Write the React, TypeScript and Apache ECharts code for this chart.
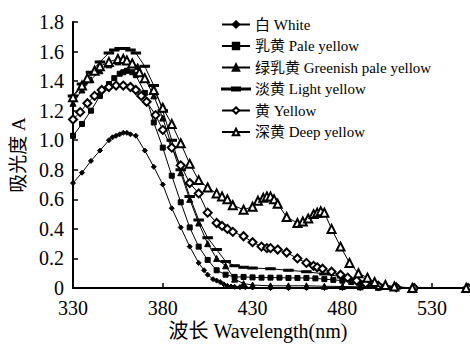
import React, { useEffect, useRef } from "react";
import * as echarts from "echarts";

const seriesNames = [
  "白 White",
  "乳黄 Pale yellow",
  "绿乳黄 Greenish pale yellow",
  "淡黄 Light yellow",
  "黄 Yellow",
  "深黄 Deep yellow",
];

const whiteData: [number, number][] = [
  [330, 0.71], [335, 0.78], [340, 0.86], [345, 0.93], [350, 1.0], [352, 1.02], [354, 1.03],
  [356, 1.04], [358, 1.05], [360, 1.05], [362, 1.04], [365, 1.03], [370, 0.93], [375, 0.82],
  [380, 0.7], [385, 0.54], [390, 0.41], [395, 0.28], [400, 0.17], [403, 0.12], [405, 0.09],
  [408, 0.06], [410, 0.05], [412, 0.04], [414, 0.025], [416, 0.015], [418, 0.01], [420, 0.008],
  [423, 0.006], [426, 0.005], [430, 0.003], [440, 0.0], [450, 0.0], [460, 0.0], [470, 0.0],
  [480, 0.0], [490, 0.0], [500, 0.0], [520, 0.0], [550, 0.0],
];

const paleYellowData: [number, number][] = [
  [330, 1.03], [335, 1.11], [340, 1.2], [345, 1.3], [350, 1.38], [353, 1.42], [356, 1.45],
  [358, 1.46], [360, 1.47], [363, 1.46], [365, 1.44], [370, 1.32], [375, 1.12], [380, 0.95],
  [385, 0.76], [390, 0.58], [395, 0.41], [400, 0.28], [405, 0.19], [410, 0.12], [415, 0.09],
  [420, 0.075], [425, 0.075], [430, 0.072], [435, 0.07], [440, 0.07], [445, 0.07], [450, 0.068],
  [455, 0.068], [460, 0.068], [465, 0.065], [470, 0.06], [475, 0.055], [480, 0.05], [485, 0.04],
  [490, 0.03], [495, 0.02], [500, 0.01], [510, 0.005], [520, 0.0], [550, 0.0],
];

const greenishData: [number, number][] = [
  [330, 1.25], [335, 1.34], [340, 1.41], [345, 1.47], [350, 1.51], [355, 1.53], [358, 1.54],
  [360, 1.54], [363, 1.53], [366, 1.5], [370, 1.42], [375, 1.3], [380, 1.15], [385, 0.96],
  [390, 0.78], [395, 0.6], [400, 0.44], [405, 0.3], [410, 0.2], [415, 0.15], [420, 0.06],
  [425, 0.03], [430, 0.02], [440, 0.015], [450, 0.015], [460, 0.015], [470, 0.012], [480, 0.01],
  [490, 0.008], [500, 0.005], [520, 0.0], [550, 0.0],
];

const lightYellowData: [number, number][] = [
  [330, 1.3], [335, 1.38], [340, 1.46], [345, 1.53], [350, 1.59], [353, 1.61], [356, 1.62],
  [359, 1.62], [362, 1.61], [365, 1.59], [370, 1.5], [375, 1.37], [380, 1.2], [385, 1.0],
  [390, 0.8], [395, 0.62], [400, 0.46], [405, 0.34], [410, 0.26], [415, 0.18], [420, 0.15],
  [425, 0.14], [430, 0.135], [440, 0.13], [450, 0.12], [460, 0.11], [470, 0.095], [480, 0.075],
  [485, 0.06], [490, 0.04], [495, 0.02], [500, 0.012], [510, 0.0], [550, 0.0],
];

const yellowData: [number, number][] = [
  [330, 1.14], [334, 1.19], [338, 1.25], [342, 1.3], [346, 1.34], [350, 1.36], [354, 1.37],
  [358, 1.37], [362, 1.36], [365, 1.34], [368, 1.3], [371, 1.26], [376, 1.17], [380, 1.07],
  [385, 0.95], [390, 0.83], [395, 0.71], [400, 0.64], [405, 0.51], [410, 0.44], [413, 0.42],
  [416, 0.4], [419, 0.38], [425, 0.35], [430, 0.31], [435, 0.28], [438, 0.27], [440, 0.27],
  [444, 0.26], [449, 0.24], [455, 0.2], [460, 0.17], [464, 0.15], [466, 0.14], [469, 0.13],
  [474, 0.11], [479, 0.09], [483, 0.07], [488, 0.05], [493, 0.03], [500, 0.015], [510, 0.005],
  [520, 0.0], [550, 0.0],
];

const deepYellowData: [number, number][] = [
  [330, 1.29], [335, 1.37], [338, 1.42], [342, 1.47], [345, 1.5], [350, 1.53], [355, 1.55],
  [358, 1.55], [360, 1.54], [363, 1.52], [367, 1.46], [370, 1.42], [375, 1.34], [380, 1.22],
  [385, 1.11], [390, 0.98], [395, 0.84], [400, 0.73], [405, 0.68], [410, 0.64], [413, 0.62],
  [416, 0.6], [419, 0.56], [425, 0.53], [430, 0.55], [433, 0.59], [436, 0.61], [438, 0.62],
  [440, 0.62], [442, 0.6], [444, 0.57], [449, 0.48], [455, 0.44], [458, 0.45], [461, 0.47],
  [464, 0.5], [466, 0.51], [468, 0.52], [470, 0.51], [474, 0.4], [479, 0.28], [484, 0.17],
  [489, 0.1], [494, 0.07], [498, 0.04], [504, 0.02], [509, 0.01], [519, 0.0], [549, 0.0],
];

const xTicks = { min: 330, max: 550, interval: 50 };
const yTicks = { min: 0, max: 1.8, interval: 0.2 };
const xAxisTitle = "波长 Wavelength(nm)";
const yAxisTitle = "吸光度 A";

const FONT = "Liberation Serif, Times New Roman, Noto Sans CJK SC, serif";

export default function App() {
  const ref = useRef<HTMLDivElement>(null);
  useEffect(() => {
    if (!ref.current) return;
    const chart = echarts.init(ref.current, null, { renderer: "svg" });
    const datasets = [whiteData, paleYellowData, greenishData, lightYellowData, yellowData, deepYellowData];
    const symbols: any[] = ["diamond", "rect", "triangle", "rect", "emptyDiamond", "emptyTriangle"];
    const sizes: any[] = [5, 5, 6, [7, 2], 8, 8];
    const legendData = seriesNames.map((name, i) =>
      i === 3
        ? { name, icon: "path://M0,3.5H10V2.5H18V3.5H28V4.5H18V5.5H10V4.5H0Z" }
        : { name }
    );
    chart.setOption({
      animation: false,
      backgroundColor: "#fff",
      grid: { left: 73, right: 2, top: 22, bottom: 56 },
      legend: {
        orient: "vertical",
        left: 216,
        top: 12,
        itemWidth: 28,
        itemHeight: 8,
        itemGap: 6.5,
        textStyle: { fontFamily: FONT, fontSize: 15, color: "#000" },
        data: legendData,
      },
      graphic: [
        {
          type: "text",
          x: 258,
          y: 321,
          style: {
            text: xAxisTitle,
            fontFamily: FONT,
            fontSize: 20,
            fill: "#000",
            textAlign: "center",
            textVerticalAlign: "top",
          },
        },
      ],
      xAxis: {
        type: "value",
        min: xTicks.min,
        max: xTicks.max,
        interval: xTicks.interval,
        axisLine: { lineStyle: { color: "#000", width: 2 } },
        axisTick: { inside: true, length: 5, lineStyle: { color: "#000", width: 1.5 } },
        axisLabel: { fontFamily: FONT, fontSize: 20, color: "#000", margin: 10, showMaxLabel: false },
        splitLine: { show: false },
      },
      yAxis: {
        type: "value",
        min: yTicks.min,
        max: yTicks.max,
        interval: yTicks.interval,
        name: yAxisTitle,
        nameLocation: "middle",
        nameGap: 35,
        nameRotate: 90,
        nameTextStyle: { fontFamily: FONT, fontSize: 19, color: "#000" },
        axisLine: { lineStyle: { color: "#000", width: 2 } },
        axisTick: { inside: true, length: 5, lineStyle: { color: "#000", width: 1.5 } },
        axisLabel: {
          fontFamily: FONT,
          fontSize: 20,
          color: "#000",
          margin: 9,
          formatter: (v: number) => (v === 0 ? "0" : v.toFixed(1)),
        },
        splitLine: { show: false },
      },
      series: seriesNames.map((name, i) => ({
        name,
        type: "line",
        data: datasets[i],
        symbol: symbols[i],
        symbolSize: sizes[i],
        showAllSymbol: true,
        lineStyle: { color: "#000", width: 1 },
        itemStyle: { color: "#000", borderColor: "#000", borderWidth: 1 },
        z: 2 + i,
      })),
    });
    return () => chart.dispose();
  }, []);
  return <div ref={ref} style={{ width: 470, height: 344, position: "absolute", left: 0, top: 0 }} />;
}
